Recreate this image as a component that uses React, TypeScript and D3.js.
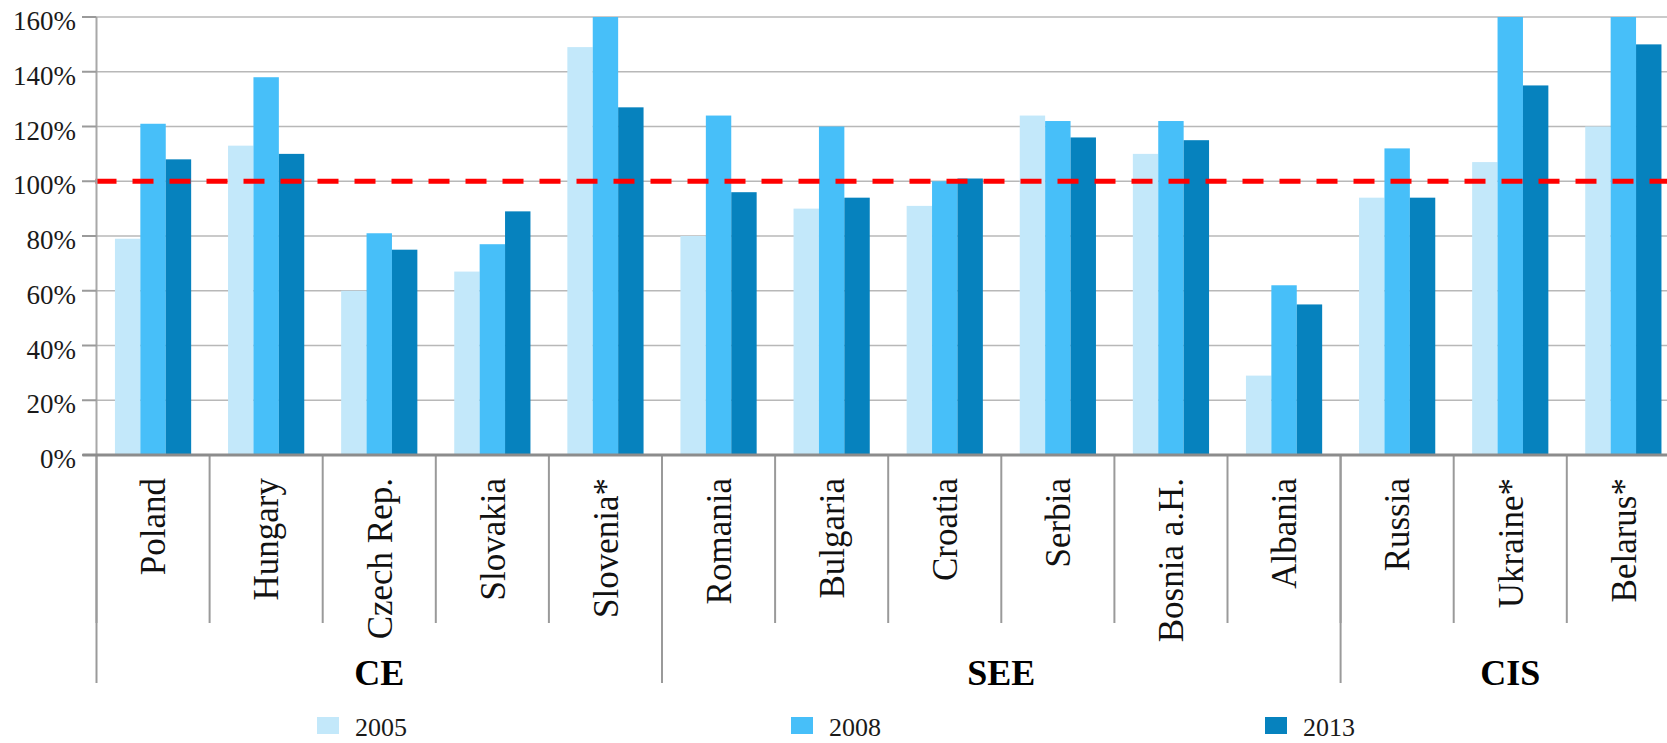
import React from "react";
import * as d3 from "d3";

// Loan-to-deposit ratios by country, grouped by region
const countries = [
  "Poland", "Hungary", "Czech Rep.", "Slovakia", "Slovenia*",
  "Romania", "Bulgaria", "Croatia", "Serbia", "Bosnia a.H.", "Albania",
  "Russia", "Ukraine*", "Belarus*",
];
const regions = ["CE", "SEE", "CIS"];
const regionSizes = [5, 6, 3];
const seriesNames = ["2005", "2008", "2013"];
const values2005 = [79, 113, 60, 67, 149, 80, 90, 91, 124, 110, 29, 94, 107, 120];
// values above the 160% axis top are cut off by the axis
const values2008 = [121, 138, 81, 77, 165, 124, 120, 100, 122, 122, 62, 112, 190, 175];
const values2013 = [108, 110, 75, 89, 127, 96, 94, 101, 116, 115, 55, 94, 135, 150];
const yTicks = [0, 20, 40, 60, 80, 100, 120, 140, 160];
const threshold = 100;

const seriesColors = ["#c3e8fa", "#47bff9", "#0682be"];

const W = 1667;
const H = 743;
const FONT = "'Liberation Serif', 'Times New Roman', serif";

export default function App() {
  const left = 96.5;
  const step = 113.1;
  const baseY = 455;
  const topY = 17;

  const x = d3.scaleBand<string>().domain(countries).range([left, left + step * countries.length]);
  const xs = d3.scaleBand<string>().domain(seriesNames).range([0, x.bandwidth()]).paddingInner(0).paddingOuter(0.726);
  const y = d3.scaleLinear().domain([0, 160]).range([baseY, topY]).clamp(true);

  const series = [values2005, values2008, values2013];

  // region boundaries
  const regionStarts: number[] = [];
  let acc = 0;
  regionSizes.forEach((n) => {
    regionStarts.push(acc);
    acc += n;
  });
  const boundaryX = (i: number) => left + step * i;

  const legendX = [317, 791, 1265];

  return (
    <svg width={W} height={H} style={{ position: "absolute", left: 0, top: 0, background: "#fff" }}>
      {/* grid lines */}
      {yTicks.filter((t) => t > 0).map((t) => (
        <line key={"g" + t} x1={left} x2={W} y1={y(t)} y2={y(t)} stroke="#b8b8b8" strokeWidth={1.6} />
      ))}
      {/* bars */}
      {series.map((vals, si) =>
        vals.map((v, i) => (
          <rect
            key={si + "-" + i}
            x={(x(countries[i]) as number) + (xs(seriesNames[si]) as number)}
            y={y(v)}
            width={xs.bandwidth()}
            height={baseY - y(v)}
            fill={seriesColors[si]}
          />
        ))
      )}
      {/* threshold line */}
      <line
        x1={left - 1}
        x2={W}
        y1={y(threshold)}
        y2={y(threshold)}
        stroke="#ff0000"
        strokeWidth={5}
        strokeDasharray="21 16"
      />
      {/* y axis */}
      <line x1={left} x2={left} y1={topY} y2={baseY} stroke="#a8a8a8" strokeWidth={2} />
      {yTicks.map((t) => (
        <g key={"t" + t}>
          <line x1={82} x2={left} y1={y(t)} y2={y(t)} stroke="#9a9a9a" strokeWidth={2} />
          <text x={76} y={y(t) + 13} textAnchor="end" fontFamily={FONT} fontSize={27} fill="#1a1a1a">
            {t}%
          </text>
        </g>
      ))}
      {/* category separators */}
      {countries.map((c, i) => (
        <line key={"s" + i} x1={boundaryX(i)} x2={boundaryX(i)} y1={baseY} y2={623} stroke="#9a9a9a" strokeWidth={2} />
      ))}
      {/* region separators */}
      {regionStarts.map((s, i) => (
        <line key={"r" + i} x1={boundaryX(s)} x2={boundaryX(s)} y1={baseY} y2={683} stroke="#9a9a9a" strokeWidth={2} />
      ))}
      {/* baseline */}
      <line x1={left - 14} x2={W} y1={baseY} y2={baseY} stroke="#8c8c8c" strokeWidth={3} />
      {/* category labels */}
      {countries.map((c) => {
        const cx = (x(c) as number) + x.bandwidth() / 2;
        return (
          <text
            key={"l" + c}
            transform={`translate(${cx},478) rotate(-90)`}
            textAnchor="end"
            dy="0.35em"
            fontFamily={FONT}
            fontSize={35}
            fill="#111"
          >
            {c}
          </text>
        );
      })}
      {/* region labels */}
      {regions.map((r, i) => {
        const x0 = boundaryX(regionStarts[i]);
        const x1 = boundaryX(regionStarts[i] + regionSizes[i]);
        return (
          <text
            key={"rl" + r}
            x={(x0 + x1) / 2}
            y={685}
            textAnchor="middle"
            fontFamily={FONT}
            fontWeight="bold"
            fontSize={36}
            fill="#000"
          >
            {r}
          </text>
        );
      })}
      {/* legend */}
      {seriesNames.map((s, i) => (
        <g key={"lg" + s}>
          <rect x={legendX[i]} y={717} width={22} height={17} fill={seriesColors[i]} />
          <text x={legendX[i] + 38} y={736} fontFamily={FONT} fontSize={26} fill="#1a1a1a">
            {s}
          </text>
        </g>
      ))}
    </svg>
  );
}
